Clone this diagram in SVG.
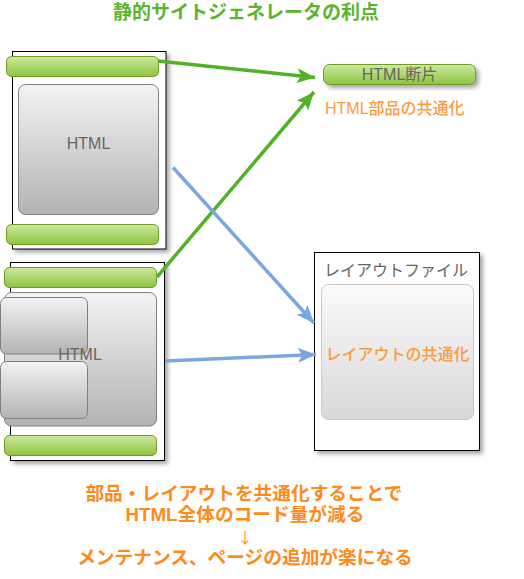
<svg xmlns="http://www.w3.org/2000/svg" width="524" height="579" viewBox="0 0 524 579">
<defs>
<linearGradient id="gGreen" x1="0" y1="0" x2="0" y2="1">
<stop offset="0" stop-color="#cde9a0"/>
<stop offset="1" stop-color="#8cc43e"/>
</linearGradient>
<linearGradient id="gGray" x1="0" y1="0" x2="0" y2="1">
<stop offset="0" stop-color="#f3f3f3"/>
<stop offset="1" stop-color="#b3b3b3"/>
</linearGradient>
<linearGradient id="gLight" x1="0" y1="0" x2="0" y2="1">
<stop offset="0" stop-color="#fbfbfb"/>
<stop offset="1" stop-color="#d8d8d8"/>
</linearGradient>
<filter id="shadow" x="-20%" y="-20%" width="150%" height="150%">
<feDropShadow dx="3" dy="3" stdDeviation="2" flood-color="#000" flood-opacity="0.35"/>
</filter>
<marker id="arrG" markerUnits="userSpaceOnUse" markerWidth="24" markerHeight="20" viewBox="-20 -10 24 20" refX="0" refY="0" orient="auto">
<path d="M0,0 L-18,-7.5 L-14,0 L-18,7.5 Z" fill="#52b226"/>
</marker>
<marker id="arrB" markerUnits="userSpaceOnUse" markerWidth="24" markerHeight="20" viewBox="-20 -10 24 20" refX="0" refY="0" orient="auto">
<path d="M0,0 L-18,-7.5 L-14,0 L-18,7.5 Z" fill="#7ba7e1"/>
</marker>
</defs>
<style>
text { font-family: "Liberation Sans", "Noto Sans CJK JP", sans-serif; }
.page { fill: #fff; stroke: #000; stroke-width: 1; filter: url(#shadow); }
.bar { fill: url(#gGreen); stroke: #6f9a24; stroke-width: 1; }
.barS { fill: url(#gGreen); stroke: #6f9a24; stroke-width: 1; filter: url(#shadow); }
.box { fill: url(#gGray); stroke: #808080; stroke-width: 1; }
.lbox { fill: url(#gLight); stroke: #c8c8c8; stroke-width: 1; }
.gtxt { fill: #666; font-size: 16px; text-anchor: middle; }
.otxt { fill: #ff9a3c; font-size: 16px; font-weight: 500; }
.title { fill: #5ab52c; font-size: 19px; font-weight: bold; text-anchor: middle; }
.note { fill: #ff8a1c; font-size: 18.7px; font-weight: bold; text-anchor: middle; }
.arrow { fill: #ff8a1c; font-size: 15px; text-anchor: middle; font-family: "Noto Sans CJK JP", sans-serif; }
.gline { stroke: #52b226; stroke-width: 3.5; fill: none; }
.bline { stroke: #7ba7e1; stroke-width: 3.5; fill: none; }
</style>

<text class="title" x="246" y="19">静的サイトジェネレータの利点</text>

<g id="page1">
<rect class="page" x="12.5" y="51.5" width="153.5" height="197.5"/>
<rect class="bar" x="6.5" y="56.5" width="152" height="20" rx="5"/>
<rect class="box" x="18.5" y="84.5" width="140" height="130" rx="7"/>
<text class="gtxt" x="88.5" y="149">HTML</text>
<rect class="bar" x="6.5" y="224.5" width="152" height="20" rx="5"/>
</g>

<g id="page2">
<rect class="page" x="10.5" y="262.5" width="154" height="198"/>
<rect class="bar" x="4.5" y="267.5" width="152" height="20" rx="5"/>
<rect class="box" x="4.5" y="292.5" width="152" height="133.5" rx="7"/>
<rect class="box" x="0.5" y="297.5" width="87" height="56.5" rx="6"/>
<rect class="box" x="0.5" y="361.5" width="87" height="57" rx="6"/>
<text class="gtxt" x="80" y="360">HTML</text>
<rect class="bar" x="4.5" y="435.5" width="152" height="20" rx="5"/>
</g>

<g id="fragment">
<rect class="barS" x="323.5" y="64.5" width="152" height="20" rx="6"/>
<text class="gtxt" x="399.5" y="80" font-size="15.5">HTML断片</text>
<text class="otxt" x="325" y="114">HTML部品の共通化</text>
</g>

<g id="layout">
<rect class="page" x="314.5" y="252.5" width="165" height="198"/>
<text class="gtxt" x="396" y="276">レイアウトファイル</text>
<rect class="lbox" x="321.5" y="284.5" width="152" height="135" rx="7"/>
<text class="otxt" x="397.5" y="360" text-anchor="middle">レイアウトの共通化</text>
</g>

<g id="connectors">
<line class="gline" x1="158" y1="61" x2="315" y2="77.5" marker-end="url(#arrG)"/>
<line class="gline" x1="157" y1="277" x2="314" y2="92" marker-end="url(#arrG)"/>
<line class="bline" x1="173" y1="167.5" x2="314" y2="323" marker-end="url(#arrB)"/>
<line class="bline" x1="165" y1="361" x2="316" y2="354.5" marker-end="url(#arrB)"/>
</g>

<g id="note">
<text class="note" x="244" y="500">部品・レイアウトを共通化することで</text>
<text class="note" x="245" y="521">HTML全体のコード量が減る</text>
<text class="arrow" x="245" y="543">↓</text>
<text class="note" x="245" y="564">メンテナンス、ページの追加が楽になる</text>
</g>
</svg>
